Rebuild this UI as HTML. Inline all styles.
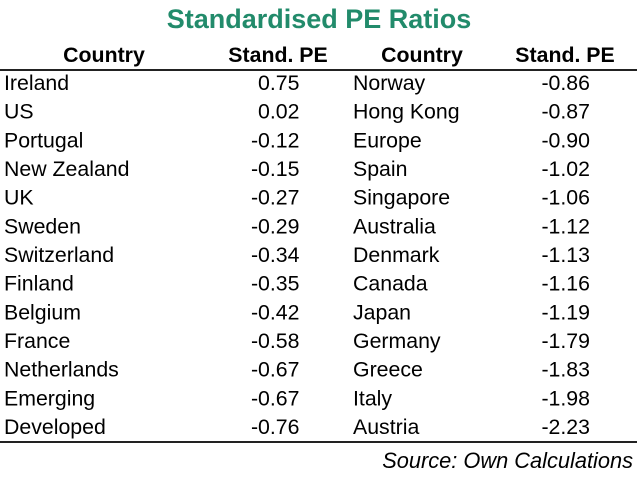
<!DOCTYPE html>
<html>
<head>
<meta charset="utf-8">
<style>
html,body{margin:0;padding:0;background:#fff;}
svg{display:block;}
text{font-family:"Liberation Sans",Arial,sans-serif;fill:#000;}
.h{font-weight:bold;font-size:21.3px;}
.b{font-size:21.3px;}
</style>
</head>
<body>
<svg width="640" height="491" viewBox="0 0 640 491" xmlns="http://www.w3.org/2000/svg">
<rect width="640" height="491" fill="#fff"/>
<text x="319" y="28" text-anchor="middle" style="font-weight:bold;font-size:27px;fill:#228b6b">Standardised PE Ratios</text>
<text class="h" x="104" y="62" text-anchor="middle">Country</text>
<text class="h" x="278" y="62" text-anchor="middle">Stand. PE</text>
<text class="h" x="422" y="62" text-anchor="middle">Country</text>
<text class="h" x="565" y="62" text-anchor="middle">Stand. PE</text>
<line x1="0" y1="70" x2="637" y2="70" stroke="#222" stroke-width="2"/>
<g class="b">
<text class="b" x="4" y="90">Ireland</text><text class="b" x="299.5" y="90" text-anchor="end">0.75</text><text class="b" x="353" y="90">Norway</text><text class="b" x="590" y="90" text-anchor="end">-0.86</text>
<text class="b" x="4" y="118.67">US</text><text class="b" x="299.5" y="118.67" text-anchor="end">0.02</text><text class="b" x="353" y="118.67">Hong Kong</text><text class="b" x="590" y="118.67" text-anchor="end">-0.87</text>
<text class="b" x="4" y="147.33">Portugal</text><text class="b" x="299.5" y="147.33" text-anchor="end">-0.12</text><text class="b" x="353" y="147.33">Europe</text><text class="b" x="590" y="147.33" text-anchor="end">-0.90</text>
<text class="b" x="4" y="176">New Zealand</text><text class="b" x="299.5" y="176" text-anchor="end">-0.15</text><text class="b" x="353" y="176">Spain</text><text class="b" x="590" y="176" text-anchor="end">-1.02</text>
<text class="b" x="4" y="204.67">UK</text><text class="b" x="299.5" y="204.67" text-anchor="end">-0.27</text><text class="b" x="353" y="204.67">Singapore</text><text class="b" x="590" y="204.67" text-anchor="end">-1.06</text>
<text class="b" x="4" y="233.33">Sweden</text><text class="b" x="299.5" y="233.33" text-anchor="end">-0.29</text><text class="b" x="353" y="233.33">Australia</text><text class="b" x="590" y="233.33" text-anchor="end">-1.12</text>
<text class="b" x="4" y="262">Switzerland</text><text class="b" x="299.5" y="262" text-anchor="end">-0.34</text><text class="b" x="353" y="262">Denmark</text><text class="b" x="590" y="262" text-anchor="end">-1.13</text>
<text class="b" x="4" y="290.67">Finland</text><text class="b" x="299.5" y="290.67" text-anchor="end">-0.35</text><text class="b" x="353" y="290.67">Canada</text><text class="b" x="590" y="290.67" text-anchor="end">-1.16</text>
<text class="b" x="4" y="319.33">Belgium</text><text class="b" x="299.5" y="319.33" text-anchor="end">-0.42</text><text class="b" x="353" y="319.33">Japan</text><text class="b" x="590" y="319.33" text-anchor="end">-1.19</text>
<text class="b" x="4" y="348">France</text><text class="b" x="299.5" y="348" text-anchor="end">-0.58</text><text class="b" x="353" y="348">Germany</text><text class="b" x="590" y="348" text-anchor="end">-1.79</text>
<text class="b" x="4" y="376.67">Netherlands</text><text class="b" x="299.5" y="376.67" text-anchor="end">-0.67</text><text class="b" x="353" y="376.67">Greece</text><text class="b" x="590" y="376.67" text-anchor="end">-1.83</text>
<text class="b" x="4" y="405.33">Emerging</text><text class="b" x="299.5" y="405.33" text-anchor="end">-0.67</text><text class="b" x="353" y="405.33">Italy</text><text class="b" x="590" y="405.33" text-anchor="end">-1.98</text>
<text class="b" x="4" y="434">Developed</text><text class="b" x="299.5" y="434" text-anchor="end">-0.76</text><text class="b" x="353" y="434">Austria</text><text class="b" x="590" y="434" text-anchor="end">-2.23</text>
</g>
<line x1="0" y1="442" x2="637" y2="442" stroke="#222" stroke-width="2"/>
<text x="633" y="468" text-anchor="end" style="font-style:italic;font-size:21.8px">Source: Own Calculations</text>
</svg>
</body>
</html>
